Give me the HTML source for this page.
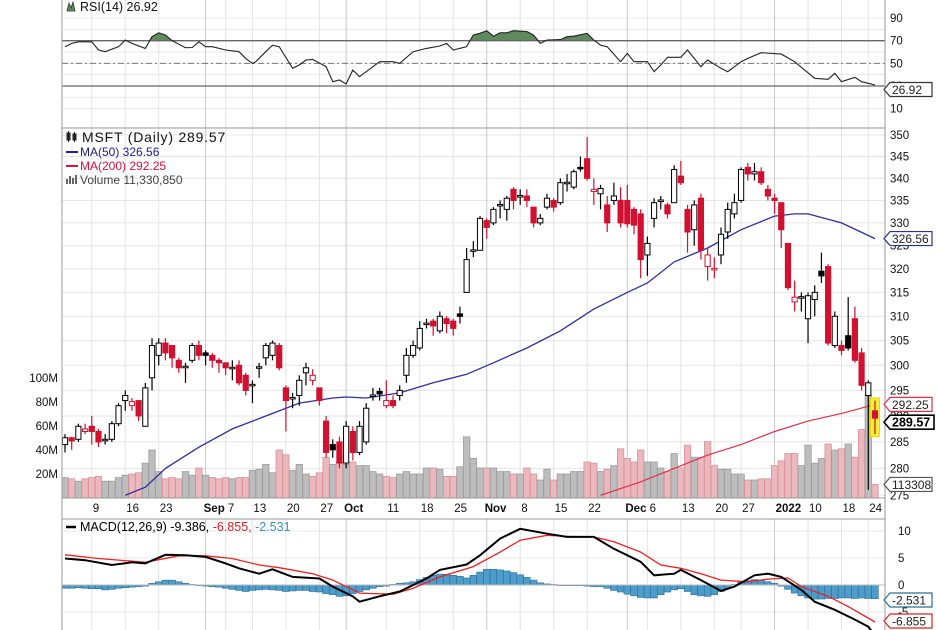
<!DOCTYPE html>
<html><head><meta charset="utf-8"><style>
html,body{margin:0;padding:0;background:#fff;}
svg{display:block;font-family:"Liberation Sans",Arial,sans-serif;}
</style></head><body>
<svg id="chart" width="936" height="630" viewBox="0 0 936 630" xmlns="http://www.w3.org/2000/svg">
<defs>
<clipPath id="cpPrice"><rect x="62" y="128" width="823" height="370"/></clipPath>
<clipPath id="cpMacd"><rect x="62" y="519" width="823" height="111"/></clipPath>
<clipPath id="cpRsiTop"><rect x="62" y="0" width="823" height="40.7"/></clipPath>
</defs>
<rect x="0" y="0" width="936" height="630" fill="#fff"/>
<g id="grid"></g>
<g id="vol" clip-path="url(#cpPrice)"></g>
<g id="ma" clip-path="url(#cpPrice)"></g>
<g id="candles" clip-path="url(#cpPrice)"></g>
<g id="rsi"></g>
<g id="macd" clip-path="url(#cpMacd)"></g>
<g id="frame"></g>
<g id="labels"></g>
</svg>
<script>
// ---------- DATA ----------
const opens  = [284.5,285.8,285.5,287,288,287,285.3,285.5,288.5,293,292,293,288,297.5,302,304.5,304,301,299.5,301,304,302.5,302,301,300.5,299.5,300,298,296,299.5,301.5,302,304,295.5,293.5,294,298.5,297,295.5,289,284.5,285,281,287,283,285,294,294.8,292,293,294,298,302,303.5,308.5,309,307,309.5,309,310.5,315,324,324,330.5,330,334,333,337.5,336,336,333.5,330,333.5,335,334.5,339,338,342.5,344.5,337,336.5,334,335,335,335,333,332,323,331,335,334,334.5,340.5,333,328.5,335.5,320.5,320,323,328,332,335,342.5,341,341.5,337.5,335.5,334.5,325.5,313,314,309.5,313.5,319.5,320.5,304,304,306,309.5,302.5,294,291];
const closes = [285.8,285.2,288,287.5,287,285,285.5,288.5,292,294,292.8,290,295.5,304,304.5,302.5,301.5,299.5,299.8,304,302,302,301,300.5,299.5,299.6,296.5,295,296.2,299.7,304,304.5,299.5,293,293.6,297,299.5,298,293,283,283.5,281,288,283,288,291.5,294.1,294.3,293,292,295,302,304,307.5,308.6,308,310,308.5,307.5,310,322,324.1,331,329,333,334.1,335.5,335,336.1,335,330,331,335.5,333.5,339,339.1,341.5,342.4,340,337.5,337.7,330,336,330,329.8,329.5,322,325.5,334.5,335.1,332,342,339,328,334,324,323,320.1,327.5,333,334.5,342,341,341.5,339,336,335,328.5,316,314,314.1,314.3,315,318.5,304.5,310,303,303.5,301,296,296.5,289.57];
const highs  = [286.5,286,288.5,288.5,290,287.5,286.5,289,292.5,295,293.5,293,296.5,305.5,305.5,305.5,304,301.5,300.5,304.5,305,303,302.5,301.5,300.5,301,301,298.5,297,300.5,304.5,305,304.5,296,294.5,298,300.5,299.2,295.5,290,285.5,286,289,288,289,292.5,295.5,295.5,297,294,296,303.5,305,309,309.5,309.5,311,310,309.5,312,324.5,326,331.5,331,333.5,335,336,338,337.5,337.5,333.5,332,336.5,335.5,340,341,342,345,349.5,340,338.5,336,339,338,338.5,333.5,333,327,335.5,336,334.5,343,344,334,335,336.5,324.5,322.5,329,334.5,336.5,342.5,343.5,343.5,342.5,338.5,336.5,334.5,325.5,317.5,315,315,316.5,323.5,321,311,305,314,312,303.5,297,293];
const lows   = [283,283.5,285,286.5,284.5,284,284.5,285,288,291,291,289,288,295,300,301,299.5,298.5,296.5,300.5,301,300,299.5,298.5,298,297,296,294,292.5,297.5,300,301,299,287,291.5,292,296,296,292,282,282,280,280,281.5,282.5,284.5,293,293,291.5,291.5,293,296.5,301.5,303,307.5,306,306.5,306.5,306,308.5,315,322.5,324,326.5,329.5,331,330.5,333,334,333.5,329,329.5,333,332.5,334,337,337.5,341.5,339.5,334,333,328,334,329,329,327.5,318,318.5,329,333,331,334.5,338.5,323.5,325,322,317.5,318,321,326.5,331,334.5,339.5,339.5,338.5,335,332,324.5,315.5,311,311,304.5,310,317,304,303.5,302,303,300.5,295,276,286.5];
const volumes= [17,16,14,16,17,18,14,14,17,19,20,21,29,40,22,16,17,16,22,19,25,19,17,16,17,16,17,17,23,24,28,21,40,36,23,28,20,18,21,34,28,30,28,30,27,27,22,20,18,17,20,22,20,20,25,25,24,18,18,26,51,33,25,25,25,22,22,20,20,25,20,15,24,15,20,20,22,22,30,29,22,24,27,41,33,30,40,30,30,25,22,37,25,44,34,34,47,27,24,24,20,20,15,15,16,16,27,31,37,37,27,44,29,33,45,40,41,45,34,57,86,11.3];
const ma50Idx = [9,12,15,20,25,30,35,40,42,45,50,55,60,64,69,74,79,84,87,91,96,101,106,109,111,116,121];
const ma50Val = [275,276.5,280,284,287.5,290,292.5,293.5,293.7,293.5,294.5,296.5,298.2,300.5,303.5,307,311.5,315,317,321.5,324.5,328.5,331.5,332,332,330,326.56];
const ma200Idx = [80,86,91,96,101,106,111,116,121];
const ma200Val = [275,277.5,280,282.5,284.5,287,289,290.5,292.25];
const rsiIdx = [0,1,2,4,5,6,8,9,10,12,13,14,15,16,18,19,20,21,22,24,26,27,28,28.5,30,31,32,34,35,36,37,39,40,41,42,43,44,46,47,49,50,52,54,56,57,58,60,61,62,63,64,65,66,67,69,70,71,72,74,75,76,78,79,80,81,83,84,85,87,88,89,90,92,93,95,96,98,99,101,102,104,107,109,112,114,115,116,118,119,120,121];
const rsiVal = [64.7,67.6,69,69,61.8,60.3,64.7,70.6,67.6,63.2,73.5,77,75,70,63.8,64,69,64.7,64.7,61.8,60.3,54.4,50,51.5,60.3,66,64.7,45.6,48.5,53,53.5,47,33.8,35.3,31.8,44,38.2,47,51.5,51.5,50,60.3,63.2,65.3,67.6,61.8,64.7,75,76.5,78.8,74,77,77,78.8,78,75,67.6,70.6,71,73.5,74,76.5,70.6,66,64.7,51.5,58.8,51.5,51.5,42.6,48.5,55.3,55.3,61.8,47,53,45.6,42.6,51.5,54.4,59.4,58.2,51.5,36.8,35.9,41.2,33.8,37.6,33.8,32.4,30.9,26.92];
const macdIdx = [0,3,7,10,12,15,18,21,24,26,29,31,34,38,40,43,44,47,50,54,56,60,62,65,68,72,75,79,82,86,88,91,92,95,98,100,103,105,107,110,112,115,118,120,121];
const macdVal = [4.9,4.6,3.7,4.2,4,5.6,5.5,5.2,4,3.1,2.1,2.9,1.5,1.2,-0.3,-2.1,-3.1,-2.1,-1.2,1.2,2.8,3.8,5.5,8.6,10.4,9.5,8.9,8.9,6.7,4.3,1.8,2.1,2.8,0.9,-1.1,-0.3,1.8,2.1,1.5,-0.9,-3.1,-4.6,-6.4,-7.7,-9.386];
const sigIdx = [0,5,12,17,21,25,29,32,37,40,44,49,52,56,61,65,68,72,75,79,82,86,89,92,95,98,102,105,108,110,114,117,121];
const sigVal = [5.6,4.9,4.2,5.4,5.4,4.9,3.7,3.2,2.1,0.9,-1.5,-1.7,-0.6,1.5,3.4,6.1,8.3,9.2,9,8.9,8,6.1,3.7,3.1,2.1,0.9,0.6,1.1,1.3,-0.3,-2.1,-4,-6.855];
const hist = [-0.6,-0.6,-0.5,-0.6,-0.7,-0.7,-0.9,-0.8,-0.6,-0.5,-0.4,-0.3,-0.2,0.3,0.6,0.9,0.9,0.6,0.3,0.1,0,-0.2,-0.3,-0.4,-0.6,-0.8,-1,-1.2,-1,-0.9,-0.8,-0.9,-1,-1.2,-1.1,-1,-1,-1.2,-1.3,-1.6,-1.8,-2.1,-2,-1.6,-1.2,-0.9,-0.6,-0.3,-0.2,0.1,0.3,0.4,0.6,1,1.4,1.8,2,2,1.8,1.6,1.3,1.8,2.4,2.9,2.9,2.8,2.6,2.3,1.9,1.4,0.9,0.4,0.2,0.1,0,-0.1,-0.1,-0.1,-0.2,-0.3,-0.3,-0.6,-1,-1.3,-1.7,-2,-2.3,-2.4,-2.4,-1.8,-1.3,-0.9,-0.7,-1.2,-1.8,-2,-2.1,-1.8,-1.2,-0.6,0.1,0.5,0.8,1,0.9,0.6,0.3,-0.2,-0.8,-1.5,-2,-2.4,-2.6,-2.6,-2.5,-2.5,-2.4,-2.4,-2.5,-2.4,-2.5,-2.531];
const tickIdx = [4,9,14,24,28,33,38,42,48,53,58,63,68,73,78,87,92,97,101,106,111,116,120];
const tickLabels = ["9","16","23","Sep 7","13","20","27","Oct","11","18","25","Nov","8","15","22","Dec 6","13","20","27","2022","10","18","24"];
const monthIdx = [21,42,63,84,106];
const priceTicks = [350,345,340,335,330,325,320,315,310,305,300,295,290,285,280,275];
const volTicks = [20,40,60,80,100];
const rsiTicks = [90,70,50,30,10];
const rsiGrid = [90,80,70,60,50,40,30,20,10];
const macdTicks = [10,5,0,-5];

// ---------- SCALES ----------
const X0=65, STEP=6.694;
const xI = i => X0 + i*STEP;
const yP = p => 135 + (Math.log(350) - Math.log(p))*1494;
const yV = m => 498 - m*1.2;
const yR = v => 120 - v*1.133;
const yM = v => 585 - v*5.4;
const NS="http://www.w3.org/2000/svg";
function mk(tag, attrs, parent){const e=document.createElementNS(NS,tag);for(const k in attrs)e.setAttribute(k,attrs[k]);parent.appendChild(e);return e;}
const G=id=>document.getElementById(id);

// ---------- GRID ----------
const grid=G('grid');
priceTicks.forEach(p=>{const l=mk('line',{x1:62,x2:885,y1:yP(p),y2:yP(p),stroke:'#e4e4e4','stroke-width':1},grid);

});
rsiGrid.forEach(v=>{const l=mk('line',{x1:62,x2:885,y1:yR(v),y2:yR(v),stroke:'#e8e8e8','stroke-width':1},grid);

});
[10,5,-5].forEach(v=>{const l=mk('line',{x1:62,x2:885,y1:yM(v),y2:yM(v),stroke:'#e8e8e8','stroke-width':1},grid);

});
tickIdx.forEach(i=>{
  const isM = monthIdx.indexOf(i)>=0;
  [[0,128],[128,498],[519,630]].forEach(r=>{const l=mk('line',{x1:xI(i),x2:xI(i),y1:r[0],y2:r[1],stroke:isM?'#c8c8c8':'#e4e4e4','stroke-width':1},grid);
  
  });
});
monthIdx.forEach(i=>{ if(tickIdx.indexOf(i)<0){[[0,128],[128,498],[519,630]].forEach(r=>{const l=mk('line',{x1:xI(i),x2:xI(i),y1:r[0],y2:r[1],stroke:'#c8c8c8','stroke-width':1},grid);
  
  });}});

// ---------- VOLUME ----------
const vol=G('vol');
volumes.forEach((v,i)=>{
  const up = i===0 ? true : closes[i]>=closes[i-1];
  const r=mk('rect',{x:xI(i)-3.2,y:yV(v),width:6.4,height:498-yV(v),fill:up?'#bdbdbd':'#eab8bd',stroke:up?'#9d9d9d':'#d8939b','stroke-width':0.8},vol);
  
  
});

// ---------- MOVING AVERAGES ----------
const ma=G('ma');
function linePath(idx, vals, yf){return idx.map((i,k)=>(k?'L':'M')+xI(i).toFixed(1)+','+yf(vals[k]).toFixed(1)).join(' ');}
const m50=mk('path',{d:linePath(ma50Idx,ma50Val,yP),fill:'none',stroke:'#2b2fa0','stroke-width':1.3},ma);


const m200=mk('path',{d:linePath(ma200Idx,ma200Val,yP),fill:'none',stroke:'#e0304a','stroke-width':1.2},ma);



// ---------- CANDLES ----------
const cg=G('candles');
const hl=mk('rect',{x:xI(121)-4.5,y:yP(293.5),width:9,height:yP(286)-yP(293.5),fill:'#f5ef3a',stroke:'#e8d800','stroke-width':1},cg);


opens.forEach((o,i)=>{
  const c=closes[i];
  const down = i>0 && c<closes[i-1];
  const col = down?'#d2102f':'#000';
  const x=xI(i);
  const w=mk('line',{x1:x,x2:x,y1:yP(highs[i]),y2:yP(lows[i]),stroke:col,'stroke-width':1.2},cg);
  
  
  const top=Math.min(yP(o),yP(c)), bot=Math.max(yP(o),yP(c));
  const h=Math.max(bot-top,1.5);
  const hollow = c>=o;
  const b=mk('rect',{x:x-2.6,y:top,width:5.2,height:h,fill:hollow?'#fff':col,stroke:col,'stroke-width':1},cg);
  
  
});

// ---------- RSI ----------
const rg=G('rsi');
const rsiPts = rsiIdx.map((i,k)=>[xI(i),yR(rsiVal[k])]);
const areaD = 'M'+rsiPts.map(p=>p[0].toFixed(1)+','+p[1].toFixed(1)).join(' L')+' L'+rsiPts[rsiPts.length-1][0]+','+yR(70)+' L'+rsiPts[0][0]+','+yR(70)+' Z';
const ra=mk('path',{d:areaD,fill:'#5e8a5e',stroke:'none','clip-path':'url(#cpRsiTop)'},rg);


[[70,'none'],[30,'none'],[50,'6,3,2,3']].forEach(a=>{const l=mk('line',{x1:62,x2:885,y1:yR(a[0]),y2:yR(a[0]),stroke:a[0]==50?'#777':'#666','stroke-width':a[0]==50?1:1.3,'stroke-dasharray':a[1]},rg);

});
const rl=mk('path',{d:linePath(rsiIdx,rsiVal,yR),fill:'none',stroke:'#222','stroke-width':1.1},rg);



// ---------- MACD ----------
const mg=G('macd');
hist.forEach((v,i)=>{
  const y0=yM(0), y1=yM(v);
  const r=mk('rect',{x:xI(i)-3.35,y:Math.min(y0,y1),width:6.7,height:Math.max(Math.abs(y1-y0),0.6),fill:'#4d9cc9',stroke:'#2a6f99','stroke-width':0.6},mg);
  
  
});
const zl=mk('line',{x1:62,x2:885,y1:yM(0),y2:yM(0),stroke:'#bbb','stroke-width':1},mg);


const sl=mk('path',{d:linePath(sigIdx,sigVal,yM),fill:'none',stroke:'#ee2020','stroke-width':1.3},mg);


const ml=mk('path',{d:linePath(macdIdx,macdVal,yM),fill:'none',stroke:'#000','stroke-width':2},mg);



// ---------- FRAME ----------
const fr=G('frame');
[[62,0,62,630],[885,0,885,630],[62,128,885,128],[62,498,885,498],[62,519,885,519]].forEach(a=>{const l=mk('line',{x1:a[0],y1:a[1],x2:a[2],y2:a[3],stroke:'#999','stroke-width':1},fr);

});

// ---------- LABELS ----------
const lb=G('labels');
function txt(x,y,s,opt){const t=mk('text',Object.assign({x:x,y:y,'font-size':11.5,fill:'#111'},opt||{}),lb);t.textContent=s;return t;}
priceTicks.forEach(p=>{const t=txt(890,yP(p)+4,String(p));

});
volTicks.forEach(v=>{const t=txt(58,yV(v)+4,v+'M',{'text-anchor':'end'});

});
rsiTicks.forEach(v=>{const t=txt(890,yR(v)+4,String(v));

});
macdTicks.forEach(v=>{const t=txt(898,yM(v)+4,String(v));

});
tickIdx.forEach((i,k)=>{
  const s=tickLabels[k];
  const bold = monthIdx.indexOf(i)>=0 || s.indexOf(' ')>0;
  const t=mk('text',{x:xI(i)+1,y:512,'font-size':11.5,fill:'#111'},lb);
  if(s.indexOf(' ')>0){const p=s.split(' ');const a=mk('tspan',{'font-weight':'bold'},t);a.textContent=p[0];const b=mk('tspan',{},t);b.textContent=' '+p[1];t.setAttribute('x',xI(i)-22);}
  else {t.textContent=s; if(bold)t.setAttribute('font-weight','bold'); if(bold&&s!=='2022')t.setAttribute('x',xI(i)-2);}
  
  
});
function tag(y,s,col,bold,name){
  const g=mk('g',{},lb);
  
  
  const w=bold?44:42;
  mk('path',{d:`M884,${y} L890,${y-7} L${890+w},${y-7} L${890+w},${y+7} L890,${y+7} Z`,fill:'#fff',stroke:col,'stroke-width':bold?1.6:1.2},g);
  const t=mk('text',{x:892,y:y+4.5,'font-size':bold?12.5:12,fill:bold?'#000':'#222','font-weight':bold?'bold':'normal'},g);t.textContent=s;
}
tag(yR(26.92),'26.92','#333',false,'rsi-value-tag');
tag(yP(326.56),'326.56','#2b2fa0',false,'ma50-value-tag');
tag(yP(292.25),'292.25','#e0304a',false,'ma200-value-tag');
tag(yP(289.57)+4,'289.57','#000',true,'price-value-tag');
tag(yV(11.3),'113308','#555',false,'volume-value-tag');
tag(600,'-2.531','#2a6f99',false,'macd-hist-value-tag');
tag(621,'-6.855','#e02020',false,'macd-signal-value-tag');

// legends
const l1=txt(80,11,'RSI(14) 26.92',{'font-size':12.5});


const ri=mk('path',{d:'M67,11 L69,3 L71,8 L73,2 L75,11 Z',fill:'#5e8a5e',stroke:'#333','stroke-width':0.8},lb);


const l2=txt(82,142,'MSFT (Daily) 289.57',{'font-size':14,'letter-spacing':'0.8'});


const ci=mk('path',{d:'M67,133h3v7h-3z M73,134h3v6h-3z M68.5,131v11 M74.5,132v10',fill:'#333',stroke:'#222','stroke-width':1},lb);


const l3=txt(80,156,'MA(50) 326.56',{fill:'#1c2090','font-size':12});


const d3=mk('line',{x1:66,x2:78,y1:152,y2:152,stroke:'#1c2090','stroke-width':2},lb);


const l4=txt(80,170,'MA(200) 292.25',{fill:'#e0103a','font-size':12});


const d4=mk('line',{x1:66,x2:78,y1:166,y2:166,stroke:'#e0103a','stroke-width':2},lb);


const l5=txt(80,184,'Volume 11,330,850',{fill:'#444','font-size':12});


const vi=mk('path',{d:'M66,184v-5h2v5z M69,184v-8h2v8z M72,184v-6h2v6z M75,184v-9h2v9z',fill:'#666'},lb);


const mt=mk('text',{x:80,y:531,'font-size':12.5,fill:'#000'},lb);


[['MACD(12,26,9) -9.386, ','#000'],['-6.855, ','#e02020'],['-2.531','#3a8fc4']].forEach(a=>{const s=mk('tspan',{fill:a[1]},mt);s.textContent=a[0];});
const md=mk('line',{x1:66,x2:76,y1:527,y2:527,stroke:'#000','stroke-width':2.5},lb);


</script>
</body></html>
